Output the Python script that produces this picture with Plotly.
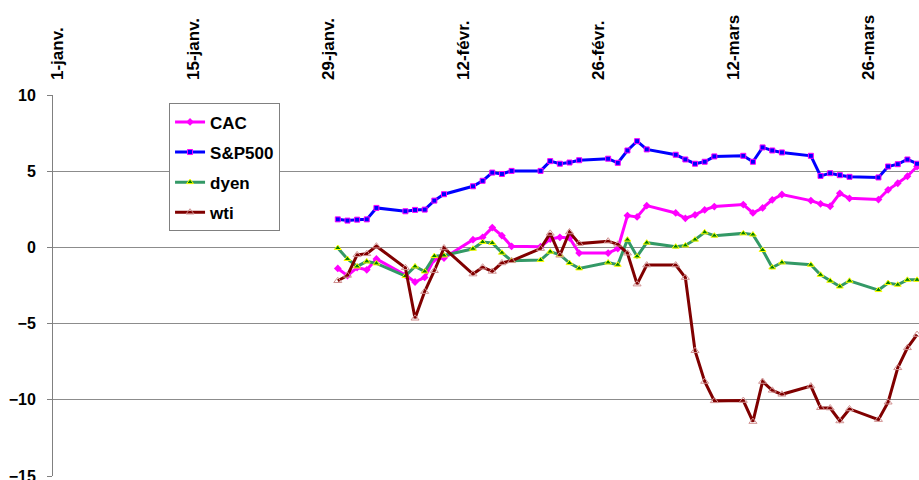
import plotly.graph_objects as go
import pandas as pd

# Business days (2006) of the series
dates = [
    "2006-01-30", "2006-01-31", "2006-02-01", "2006-02-02", "2006-02-03",
    "2006-02-06", "2006-02-07", "2006-02-08", "2006-02-09", "2006-02-10",
    "2006-02-13", "2006-02-14", "2006-02-15", "2006-02-16", "2006-02-17",
    "2006-02-20", "2006-02-21", "2006-02-22", "2006-02-23", "2006-02-24",
    "2006-02-27", "2006-02-28", "2006-03-01", "2006-03-02", "2006-03-03",
    "2006-03-06", "2006-03-07", "2006-03-08", "2006-03-09", "2006-03-10",
    "2006-03-13", "2006-03-14", "2006-03-15", "2006-03-16", "2006-03-17",
    "2006-03-20", "2006-03-21", "2006-03-22", "2006-03-23", "2006-03-24",
    "2006-03-27", "2006-03-28", "2006-03-29", "2006-03-30", "2006-03-31",
]

cac = [
    -1.38, -1.85, -1.32, -1.47, -0.76,
    -1.82, -2.27, -1.97, -0.76, -0.70,
    0.51, 0.66, 1.30, 0.77, 0.07,
    0.05, 0.55, 0.66, 0.62, -0.37,
    -0.37, -0.08, 2.09, 2.00, 2.74,
    2.26, 1.91, 2.13, 2.46, 2.68,
    2.81, 2.26, 2.59, 3.12, 3.47,
    3.07, 2.86, 2.70, 3.55, 3.22,
    3.14, 3.78, 4.21, 4.67, 5.31,
]

sp500 = [
    1.84, 1.76, 1.82, 1.84, 2.59,
    2.37, 2.46, 2.48, 3.07, 3.49,
    4.01, 4.37, 4.91, 4.82, 5.02,
    5.02, 5.66, 5.49, 5.57, 5.72,
    5.82, 5.55, 6.36, 6.97, 6.43,
    6.08, 5.77, 5.49, 5.62, 5.97,
    6.01, 5.62, 6.56, 6.36, 6.23,
    6.01, 4.69, 4.87, 4.74, 4.63,
    4.59, 5.31, 5.46, 5.77, 5.49,
]

dyen = [
    -0.04, -0.76, -1.25, -0.92, -1.05,
    -1.88, -1.25, -1.58, -0.57, -0.53,
    -0.09, 0.35, 0.29, -0.35, -0.88,
    -0.83, -0.28, -0.48, -1.03, -1.38,
    -0.99, -1.14, 0.51, -0.59, 0.31,
    0.05, 0.13, 0.51, 0.99, 0.77,
    0.92, 0.84, -0.17, -1.32, -0.99,
    -1.14, -1.80, -2.19, -2.57, -2.19,
    -2.80, -2.34, -2.45, -2.13, -2.13,
]

wti = [
    -2.19, -1.84, -0.49, -0.42, 0.08,
    -1.34, -4.65, -2.90, -1.53, -0.04,
    -1.75, -1.30, -1.58, -1.02, -0.88,
    -0.08, 0.92, -0.52, 1.01, 0.25,
    0.41, 0.20, -0.38, -2.41, -1.16,
    -1.16, -1.98, -6.78, -8.80, -10.07,
    -10.05, -11.43, -8.80, -9.38, -9.64,
    -9.10, -10.52, -10.54, -11.39, -10.60,
    -11.30, -10.16, -7.90, -6.59, -5.72,
]

tick_dates = ["2006-01-01", "2006-01-15", "2006-01-29", "2006-02-12",
              "2006-02-26", "2006-03-12", "2006-03-26"]
tick_labels = ["1-janv.", "15-janv.", "29-janv.", "12-févr.",
               "26-févr.", "12-mars", "26-mars"]

# Excel-style date axis: each day's value sits in the middle of its day slot
half_day = pd.Timedelta(hours=12)
x = pd.to_datetime(dates) + half_day
tick_x = pd.to_datetime(tick_dates)

FONT = "Arial, 'Liberation Sans', sans-serif"

fig = go.Figure()
fig.add_trace(go.Scatter(
    x=x, y=cac, name="CAC", mode="lines+markers", legendgroup="a",
    line=dict(color="#FF00FF", width=3),
    marker=dict(symbol="diamond", size=6, color="#FF00FF"),
))
fig.add_trace(go.Scatter(
    x=x, y=sp500, name="S&P500", mode="lines+markers", legendgroup="b",
    line=dict(color="#0000FF", width=3),
    marker=dict(symbol="square", size=5, color="#0000FF",
                line=dict(color="#FF00FF", width=1)),
))
fig.add_trace(go.Scatter(
    x=x, y=dyen, name="dyen", mode="lines+markers", legendgroup="c",
    line=dict(color="#339966", width=3),
    marker=dict(symbol="triangle-up", size=6, color="#008000",
                line=dict(color="#FFFF00", width=1)),
))
fig.add_trace(go.Scatter(
    x=x, y=wti, name="wti", mode="lines+markers", legendgroup="d",
    line=dict(color="#800000", width=3),
    marker=dict(symbol="triangle-up-open", size=7, color="#D09090",
                line=dict(width=1)),
))

x_range = [pd.Timestamp("2006-01-01"), pd.Timestamp("2006-03-31 16:48")]

fig.update_layout(
    width=919, height=480,
    margin=dict(l=53, r=0, t=95, b=4, autoexpand=False),
    paper_bgcolor="white", plot_bgcolor="white",
    font=dict(family=FONT, size=16, color="black"),
    showlegend=True,
    legend=dict(
        x=0.134, y=0.978, xanchor="left", yanchor="top",
        bgcolor="white", bordercolor="#808080", borderwidth=1,
        font=dict(family=FONT, size=17, weight="bold", color="black"),
        tracegroupgap=5, itemwidth=30,
    ),
    xaxis=dict(
        type="date", range=x_range, side="top", automargin=False,
        tickmode="array", tickvals=tick_x + half_day, ticktext=tick_labels,
        tickangle=-90, ticks="", ticklabelstandoff=14,
        tickfont=dict(family=FONT, size=17, weight="bold", color="black"),
        showgrid=False, zeroline=False, showline=False,
    ),
    xaxis2=dict(
        type="date", range=x_range, overlaying="x", anchor="free",
        position=0.6, side="bottom", automargin=False,
        tickmode="array", tickvals=tick_x, showticklabels=False,
        ticks="outside", ticklen=5, tickcolor="#808080", tickwidth=1,
        showgrid=False, zeroline=False, showline=False,
    ),
    yaxis=dict(
        range=[-15, 10], tickmode="array", tickvals=[-15, -10, -5, 0, 5, 10],
        automargin=False, ticklabeloverflow="allow",
        showgrid=True, gridcolor="#8c8c8c", gridwidth=1,
        zeroline=False, showline=True, linecolor="#808080", linewidth=1,
        ticks="outside", ticklen=5, tickcolor="#808080",
        ticklabelstandoff=8,
        tickfont=dict(family=FONT, size=16, weight="bold", color="black"),
    ),
)

# remove the page's default body margin so the figure fills the window exactly
fig.write_html(
    "out.html",
    config={"displayModeBar": False},
    post_script="document.body.style.margin='0';document.body.style.overflow='hidden';",
)
